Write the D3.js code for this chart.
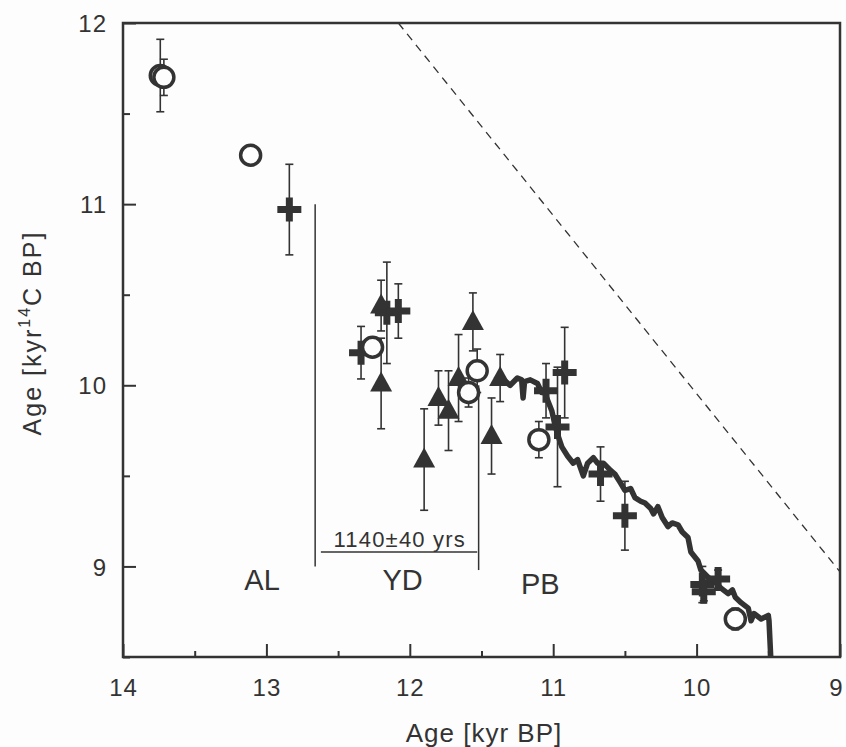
<!DOCTYPE html>
<html>
<head>
<meta charset="utf-8">
<script src="https://cdn.jsdelivr.net/npm/d3@7"></script>
<style>
  body { margin: 0; background: #fdfdfd; }
  text { font-family: "Liberation Sans", Arial, sans-serif; fill: #333; }
</style>
</head>
<body>
<script>
// open circles: calendar age, 14C age, 1 sigma
var circX = [13.74, 13.715, 13.11, 12.26, 11.59, 11.53, 11.10, 9.73];
var circY = [11.71, 11.70, 11.27, 10.21, 9.96, 10.08, 9.70, 8.71];
var circErr = [0.2, 0.1, 0, 0, 0.08, 0.12, 0.1, 0.06];

// crosses
var crossX = [12.84, 12.34, 12.16, 12.08, 11.05, 10.92, 10.97, 10.67, 10.50, 9.96, 9.85, 9.95];
var crossY = [10.97, 10.18, 10.40, 10.41, 9.97, 10.07, 9.77, 9.51, 9.28, 8.90, 8.93, 8.86];
var crossErr = [0.25, 0.145, 0.28, 0.15, 0.15, 0.25, 0.33, 0.15, 0.19, 0.1, 0.05, 0.05];

// filled triangles
var triX = [12.20, 12.20, 11.90, 11.80, 11.73, 11.66, 11.56, 11.43, 11.37];
var triY = [10.44, 10.01, 9.59, 9.93, 9.86, 10.04, 10.35, 9.72, 10.04];
var triErr = [0.14, 0.25, 0.28, 0.15, 0.22, 0.24, 0.16, 0.21, 0.13];

// calibration curve
var curveX = [11.41, 11.36, 11.30, 11.25, 11.22, 11.21, 11.20, 11.16, 11.11, 11.08, 11.06, 11.03,
  11.01, 10.99, 10.97, 10.94, 10.90, 10.86, 10.83, 10.79, 10.76, 10.72, 10.69, 10.65, 10.60,
  10.57, 10.53, 10.50, 10.46, 10.43, 10.39, 10.36, 10.32, 10.30, 10.27, 10.24, 10.20, 10.17,
  10.13, 10.10, 10.06, 10.04, 9.99, 9.97, 9.92, 9.88, 9.83, 9.78, 9.75, 9.73, 9.69, 9.64,
  9.62, 9.60, 9.55, 9.50, 9.495, 9.48];
var curveY = [10.03, 10.04, 10.00, 10.04, 10.03, 9.93, 10.02, 10.03, 10.01, 9.96, 9.96, 9.90,
  9.86, 9.79, 9.73, 9.66, 9.61, 9.57, 9.59, 9.50, 9.57, 9.60, 9.57, 9.57, 9.53,
  9.51, 9.46, 9.42, 9.43, 9.38, 9.36, 9.35, 9.32, 9.29, 9.33, 9.27, 9.22, 9.24,
  9.23, 9.19, 9.16, 9.08, 9.03, 8.98, 8.94, 8.92, 8.88, 8.85, 8.87, 8.83, 8.80, 8.77,
  8.70, 8.74, 8.71, 8.73, 8.70, 8.45];

var xTicks = [14, 13, 12, 11, 10, 9];
var xMinor = [13.5, 12.5, 11.5, 10.5, 9.5];
var yTicks = [9, 10, 11, 12];
var yMinor = [8.5, 9.5, 10.5, 11.5];

var W = 846, H = 747;
var ink = "#333";

var svg = d3.select("body").append("svg")
  .attr("width", W)
  .attr("height", H);

var x = d3.scaleLinear().domain([14, 9]).range([123, 840]);
var y = d3.scaleLinear().domain([8.5, 12]).range([657, 23]);

// clip for the curve
svg.append("clipPath").attr("id", "plot")
  .append("rect")
  .attr("x", x(14)).attr("y", y(12))
  .attr("width", x(9) - x(14)).attr("height", y(8.5) - y(12));

// x axis: major and minor ticks pointing inward
var xAxis = svg.append("g")
  .attr("transform", "translate(0," + y(8.5) + ")")
  .call(d3.axisBottom(x).tickValues(xTicks).tickSize(-13).tickPadding(22).tickFormat(d3.format("d")));
svg.append("g")
  .attr("transform", "translate(0," + y(8.5) + ")")
  .call(d3.axisBottom(x).tickValues(xMinor).tickSize(-6).tickFormat(""));

var yAxis = svg.append("g")
  .attr("transform", "translate(" + x(14) + ",0)")
  .call(d3.axisLeft(y).tickValues(yTicks).tickSize(-13).tickPadding(16).tickFormat(d3.format("d")));
svg.append("g")
  .attr("transform", "translate(" + x(14) + ",0)")
  .call(d3.axisLeft(y).tickValues(yMinor).tickSize(-7).tickFormat(""));

svg.selectAll(".domain").remove();
svg.selectAll(".tick line").attr("stroke", ink).attr("stroke-width", 2);
svg.selectAll(".tick text")
  .style("font-size", "24px")
  .style("letter-spacing", "1px")
  .style("font-family", "Liberation Sans, Arial, sans-serif")
  .attr("fill", ink);
yAxis.selectAll(".tick text").attr("dy", "0.36em");
// last label sits on the page edge; nudge it inside
xAxis.selectAll(".tick text").filter(d => d === 9).attr("dx", -4);

// frame
svg.append("rect")
  .attr("x", x(14)).attr("y", y(12))
  .attr("width", x(9) - x(14)).attr("height", y(8.5) - y(12))
  .attr("fill", "none")
  .attr("stroke", ink)
  .attr("stroke-width", 2.5);

// 1:1 line (as drawn in the figure)
svg.append("line")
  .attr("x1", x(12.08)).attr("y1", y(12))
  .attr("x2", x(9)).attr("y2", y(8.97))
  .attr("stroke", ink)
  .attr("stroke-width", 1.3)
  .attr("stroke-dasharray", "8,6");

// period boundaries
svg.append("line")
  .attr("x1", x(12.66)).attr("y1", y(11))
  .attr("x2", x(12.66)).attr("y2", y(9))
  .attr("stroke", ink).attr("stroke-width", 1.5);
svg.append("line")
  .attr("x1", x(11.52)).attr("y1", y(10))
  .attr("x2", x(11.52)).attr("y2", y(8.98))
  .attr("stroke", ink).attr("stroke-width", 1.5);
svg.append("line")
  .attr("x1", x(12.62)).attr("y1", y(9.08))
  .attr("x2", x(11.53)).attr("y2", y(9.08))
  .attr("stroke", ink).attr("stroke-width", 1.5);
svg.append("text")
  .attr("x", x(12.07)).attr("y", y(9.105))
  .attr("text-anchor", "middle")
  .style("font-size", "22px")
  .style("letter-spacing", "1.2px")
  .text("1140\u00b140 yrs");

// calibration curve
var line = d3.line().x((d, i) => x(curveX[i])).y((d, i) => y(curveY[i]));
svg.append("path")
  .datum(curveX)
  .attr("clip-path", "url(#plot)")
  .attr("d", line)
  .attr("fill", "none")
  .attr("stroke", ink)
  .attr("stroke-width", 5.5)
  .attr("stroke-linejoin", "round");

// error bars
function errBars(xs, ys, es) {
  var g = svg.append("g");
  xs.forEach(function(xv, i) {
    if (!es[i]) return;
    var cx = x(xv), y0 = y(ys[i] - es[i]), y1 = y(ys[i] + es[i]);
    g.append("line").attr("x1", cx).attr("x2", cx).attr("y1", y0).attr("y2", y1)
      .attr("stroke", ink).attr("stroke-width", 1.6);
    [y0, y1].forEach(function(yy) {
      g.append("line").attr("x1", cx - 4).attr("x2", cx + 4).attr("y1", yy).attr("y2", yy)
        .attr("stroke", ink).attr("stroke-width", 1.6);
    });
  });
}
errBars(triX, triY, triErr);
errBars(crossX, crossY, crossErr);
errBars(circX, circY, circErr);

// triangles
svg.selectAll(".tri")
  .data(triX)
  .enter()
  .append("path")
  .attr("class", "tri")
  .attr("transform", (d, i) => "translate(" + x(d) + "," + y(triY[i]) + ")")
  .attr("d", "M0,-12L11,8L-11,8Z")
  .attr("fill", ink);

// crosses
svg.selectAll(".cross")
  .data(crossX)
  .enter()
  .append("path")
  .attr("class", "cross")
  .attr("transform", (d, i) => "translate(" + x(d) + "," + y(crossY[i]) + ")")
  .attr("d", "M-3.5,-12H3.5V-3.5H12V3.5H3.5V12H-3.5V3.5H-12V-3.5H-3.5Z")
  .attr("fill", ink);

// circles
svg.selectAll(".circ")
  .data(circX)
  .enter()
  .append("circle")
  .attr("class", "circ")
  .attr("cx", d => x(d))
  .attr("cy", (d, i) => y(circY[i]))
  .attr("r", 10)
  .attr("fill", "#fdfdfd")
  .attr("stroke", ink)
  .attr("stroke-width", 3.5);

// period names
[["AL", 13.03, 8.87], ["YD", 12.05, 8.87], ["PB", 11.09, 8.85]].forEach(function(p) {
  svg.append("text")
    .attr("x", x(p[1])).attr("y", y(p[2]))
    .attr("text-anchor", "middle")
    .style("font-size", "29px")
    .text(p[0]);
});

// axis titles
svg.append("text")
  .attr("x", 484).attr("y", 742)
  .attr("text-anchor", "middle")
  .style("font-size", "26px")
  .style("letter-spacing", "1px")
  .text("Age [kyr BP]");

var yt = svg.append("text")
  .attr("transform", "translate(41,333) rotate(-90)")
  .attr("text-anchor", "middle")
  .style("font-size", "25px")
  .style("letter-spacing", "2px");
yt.append("tspan").text("Age  [kyr");
yt.append("tspan").attr("dy", -11).style("font-size", "16px").text("14");
yt.append("tspan").attr("dy", 11).text("C BP]");
</script>
</body>
</html>
